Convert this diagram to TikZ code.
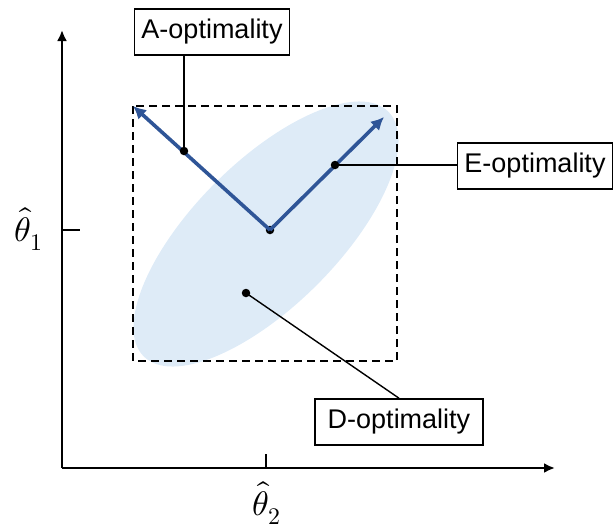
\documentclass[tikz,border=0pt]{standalone}
\usepackage{fontspec}
\usepackage{unicode-math}
\setmainfont{Liberation Sans}
\setmathfont{Latin Modern Math}
\usepackage{tikz}
\usetikzlibrary{arrows.meta,positioning,calc}
\definecolor{vecblue}{RGB}{47,85,151}
\definecolor{ellblue}{RGB}{222,235,247}

\begin{document}
\begin{tikzpicture}[x=1pt,y=-1pt,
      axis/.style={line width=2.6pt,-{Latex[length=11pt,width=10pt]}},
      vec/.style={line width=3.6pt,color=vecblue,
                  -{Latex[length=13pt,width=13pt]}},
      lead/.style={line width=1.4pt},
      label/.style={draw,line width=1.6pt,fill=white,inner xsep=7pt,
                    minimum height=46pt,font=\fontsize{27}{30}\selectfont},
      dot/.style={circle,fill=black,inner sep=0pt,minimum size=8.5pt},
      estim/.style={font=\fontsize{34}{36}\selectfont,inner sep=1pt},
    ]
    \useasboundingbox (0,0) rectangle (614,531);

    % confidence ellipse and bounding box
    \fill[ellblue] (266,234) ellipse[x radius=173pt,y radius=72pt,rotate=45];
    \draw[line width=1.8pt,dash pattern=on 8pt off 5pt]
      (133,106) rectangle (397,361);

    % axes
    \coordinate (orig) at (62,468);
    \draw[axis] (orig) -- (62,30);
    \draw[axis] (orig) -- (555,468);
    \draw[line width=1.6pt] (62,230) -- (80,230);
    \draw[line width=1.6pt] (266,468) -- (266,454);
    \node[estim] (th1) at (29,229) {$\hat{\theta}_1$};
    \node[estim] (th2) at (267,503) {$\hat{\theta}_2$};

    % principal directions
    \node[dot] (ctr) at (270,230) {};
    \coordinate (atip) at (133,106);
    \coordinate (etip) at (384,117);
    \draw[vec] (ctr.center) -- (atip);
    \draw[vec] (ctr.center) -- (etip);

    % dots
    \node[dot] (adot) at (184,151) {};
    \node[dot] (edot) at (335,165) {};
    \node[dot] (ddot) at (246,293) {};

    % labels
    \node[label] (abox) at (212,32)  {A-optimality};
    \node[label] (ebox) at (535,166) {E-optimality};
    \node[label,minimum width=168pt] (dbox) at (399,422) {D-optimality};

    % leaders
    \draw[lead] (adot.center) -- (adot |- abox.south);
    \draw[lead] (edot.center) -- (edot -| ebox.west);
    \draw[lead] (ddot.center) -- (dbox.north);

  \end{tikzpicture}
\end{document}
